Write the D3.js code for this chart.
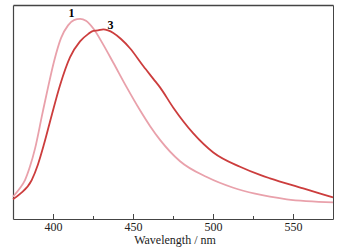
<!DOCTYPE html>
<html lang="en">
<head>
    <meta charset="UTF-8">
    <title>Fluorescence spectra</title>
    <script src="https://d3js.org/d3.v7.min.js"></script>
    <style>
        body { margin: 0; background: #fff; }
        .axis text { font-family: "Liberation Serif", serif; font-size: 12px; fill: #222; }
        .axis path, .axis line { stroke: #444; }
    </style>
</head>
<body>
<svg id="chart" width="343" height="250"></svg>
<script>
    // curve 1 (light pink): wavelength (nm) / intensity (a.u.)
    const wl1 = [375, 379.4, 382.5, 385.6, 388.8, 393.3, 396.9, 400.6, 405, 409.4, 413.1, 416.9, 420.6, 425.2, 431.4, 437.7, 446.1, 454.4, 460.6, 466.9, 479.4, 496.1, 512.7, 526.3, 546.1, 575];
    const int1 = [10.4, 14.5, 18.2, 24.5, 33.0, 49.0, 61.5, 73.5, 84.5, 90.5, 92.9, 93.5, 92.6, 89.0, 81.5, 73.0, 61.5, 50.8, 43.5, 37.0, 27.0, 19.6, 14.6, 11.8, 9.2, 7.8];

    // curve 3 (dark red)
    const wl3 = [375, 379.4, 386.7, 390.6, 394.4, 399.2, 404.4, 410.6, 416.9, 421.9, 425.2, 428.1, 431.4, 434.4, 437.7, 442.5, 448.1, 456.4, 462.7, 466.9, 475.2, 487.7, 500.2, 516.9, 529.4, 535.6, 556.4, 575];
    const int3 = [9.2, 11.7, 18.2, 25.5, 35.0, 48.5, 62.5, 75.5, 83.0, 86.4, 87.9, 88.1, 88.6, 88.1, 86.9, 84.1, 79.8, 71.5, 65.5, 61.5, 52.0, 40.0, 31.1, 24.4, 20.6, 19.0, 14.3, 10.1];

    const majorTicks = [400, 450, 500, 550];
    const minorTicks = [425, 475, 525];

    const margin = { top: 5, right: 10, bottom: 31, left: 13 };
    const width = 343, height = 250;

    const svg = d3.select("#chart");

    const x = d3.scaleLinear()
        .domain([375, 575])
        .range([margin.left, width - margin.right]);

    const y = d3.scaleLinear()
        .domain([0, 100])
        .range([height - margin.bottom, margin.top]);

    const line = d3.line()
        .x(d => x(d[0]))
        .y(d => y(d[1]))
        .curve(d3.curveMonotoneX);

    // frame
    svg.append("g")
        .attr("class", "axis")
        .attr("transform", `translate(0,${margin.top})`)
        .call(d3.axisTop(x).ticks(0).tickSizeOuter(0))
        .select("path").attr("stroke", "#777").attr("stroke-width", 1.5);

    svg.append("g")
        .attr("class", "axis")
        .attr("transform", `translate(${margin.left},0)`)
        .call(d3.axisLeft(y).ticks(0).tickSizeOuter(0))
        .select("path").attr("stroke", "#555").attr("stroke-width", 1.2);

    svg.append("g")
        .attr("class", "axis")
        .attr("transform", `translate(${width - margin.right},0)`)
        .call(d3.axisRight(y).ticks(0).tickSizeOuter(0))
        .select("path").attr("stroke", "#555");

    // bottom axis, ticks pointing inward
    const xAxis = svg.append("g")
        .attr("class", "axis")
        .attr("transform", `translate(0,${height - margin.bottom})`)
        .call(d3.axisBottom(x).tickValues(majorTicks).tickSize(-5).tickSizeOuter(0).tickPadding(3));
    xAxis.select("path").attr("stroke", "#333").attr("stroke-width", 1.2);

    svg.append("g")
        .attr("class", "axis")
        .attr("transform", `translate(0,${height - margin.bottom})`)
        .call(d3.axisBottom(x).tickValues(minorTicks).tickSize(-3).tickFormat(""))
        .select("path").remove();

    // spectra
    svg.append("path")
        .datum(d3.zip(wl1, int1))
        .attr("fill", "none")
        .attr("stroke", "#e9a1ab")
        .attr("stroke-width", 1.8)
        .attr("d", line);

    svg.append("path")
        .datum(d3.zip(wl3, int3))
        .attr("fill", "none")
        .attr("stroke", "#cc3d3d")
        .attr("stroke-width", 1.8)
        .attr("d", line);

    // curve labels
    svg.append("text")
        .attr("x", x(411.5)).attr("y", 17)
        .attr("text-anchor", "middle")
        .attr("font-family", "Liberation Serif, serif")
        .attr("font-weight", "bold").attr("font-size", "12px")
        .text("1");

    svg.append("text")
        .attr("x", x(436)).attr("y", 29)
        .attr("text-anchor", "middle")
        .attr("font-family", "Liberation Serif, serif")
        .attr("font-weight", "bold").attr("font-size", "12px")
        .text("3");

    // x-axis label
    svg.append("text")
        .attr("x", 175)
        .attr("y", 244)
        .attr("text-anchor", "middle")
        .attr("font-family", "Liberation Serif, serif")
        .attr("font-size", "12px")
        .attr("fill", "#222")
        .text("Wavelength / nm");
</script>
</body>
</html>
